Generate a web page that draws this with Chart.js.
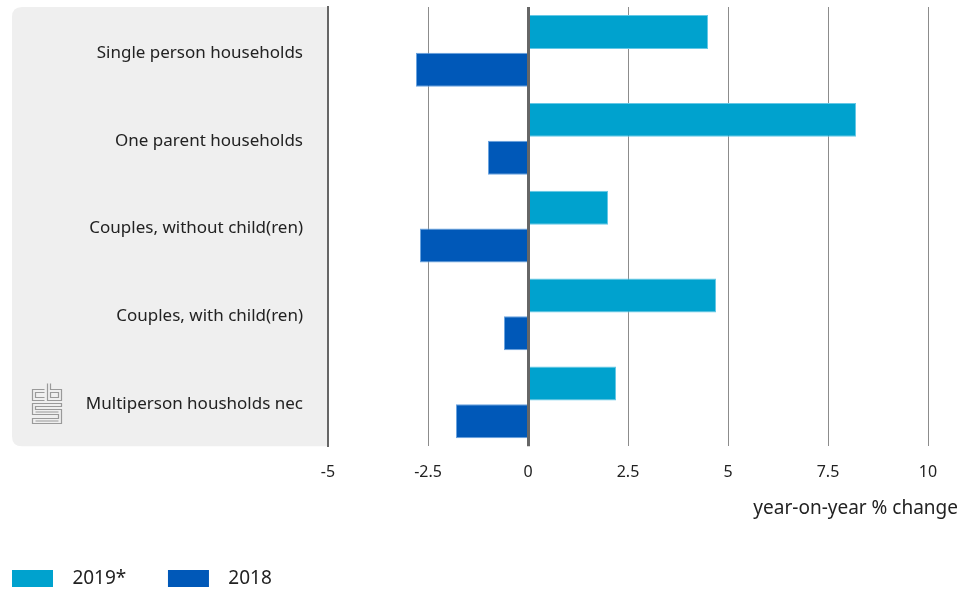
<!DOCTYPE html>
<html>
<head>
<meta charset="utf-8">
<script src="https://cdn.jsdelivr.net/npm/chart.js@4/dist/chart.umd.min.js"></script>
<style>
html,body{margin:0;padding:0;background:#fff;}
#wrap{width:969px;height:594px;position:relative;}
</style>
</head>
<body>
<div id="wrap"><canvas id="c" width="969" height="594"></canvas></div>
<script>
const categories = ["Single person households","One parent households","Couples, without child(ren)","Couples, with child(ren)","Multiperson housholds nec"];
const seriesNames = ["2019*","2018"];
const values2019 = [4.5, 8.2, 2.0, 4.7, 2.2];
const values2018 = [-2.8, -1.0, -2.7, -0.6, -1.8];
const xTicks = [-5, -2.5, 0, 2.5, 5, 7.5, 10];
const axisTitle = "year-on-year % change";

const FONT = "'Noto Sans', sans-serif";
const TEXT = "#222";

const panelPlugin = {
  id: 'panel',
  beforeDraw(chart) {
    const ctx = chart.ctx, a = chart.chartArea;
    const x0 = 12, x1 = a.left - 1, y0 = a.top, y1 = a.bottom, r = 10;
    ctx.save();
    ctx.fillStyle = '#efefef';
    ctx.beginPath();
    ctx.moveTo(x0 + r, y0);
    ctx.lineTo(x1, y0);
    ctx.lineTo(x1, y1);
    ctx.lineTo(x0 + r, y1);
    ctx.quadraticCurveTo(x0, y1, x0, y1 - r);
    ctx.lineTo(x0, y0 + r);
    ctx.quadraticCurveTo(x0, y0, x0 + r, y0);
    ctx.closePath();
    ctx.fill();
    // cbs logo
    ctx.strokeStyle = '#9a9a9a';
    ctx.lineWidth = 1.2;
    const L = 32.5, T = 383.5;
    ctx.beginPath();
    // c
    ctx.moveTo(L+12, T+6); ctx.lineTo(L, T+6); ctx.lineTo(L, T+17); ctx.lineTo(L+12, T+17);
    ctx.moveTo(L+12, T+9); ctx.lineTo(L+3, T+9); ctx.lineTo(L+3, T+14); ctx.lineTo(L+12, T+14);
    // b
    ctx.moveTo(L+15, T); ctx.lineTo(L+15, T+17); ctx.lineTo(L+29, T+17); ctx.lineTo(L+29, T+6); ctx.lineTo(L+18, T+6); ctx.lineTo(L+18, T);
    ctx.moveTo(L+18, T+9); ctx.lineTo(L+26, T+9); ctx.lineTo(L+26, T+14); ctx.lineTo(L+18, T+14); ctx.closePath();
    // s
    ctx.moveTo(L+29, T+20); ctx.lineTo(L, T+20); ctx.lineTo(L, T+31); ctx.lineTo(L+26, T+31); ctx.lineTo(L+26, T+35); ctx.lineTo(L, T+35); ctx.lineTo(L, T+40); ctx.lineTo(L+29, T+40); ctx.lineTo(L+29, T+26); ctx.lineTo(L+3, T+26); ctx.lineTo(L+3, T+23); ctx.lineTo(L+29, T+23); ctx.closePath();
    ctx.moveTo(L+3, T+37.5); ctx.lineTo(L+26, T+37.5);
    ctx.moveTo(L+3, T+28.5); ctx.lineTo(L+26, T+28.5);
    ctx.stroke();
    ctx.restore();
  }
};

const zeroLine = {
  id: 'zeroLine',
  afterDatasetsDraw(chart) {
    const ctx = chart.ctx, a = chart.chartArea, xs = chart.scales.x;
    const px = Math.round(xs.getPixelForValue(0)) + 0.5;
    ctx.save();
    ctx.strokeStyle = '#666';
    ctx.lineWidth = 3;
    ctx.beginPath();
    ctx.moveTo(px, a.top);
    ctx.lineTo(px, a.bottom);
    ctx.stroke();
    ctx.restore();
  }
};

function noPad(scale) { scale.paddingTop = 0; scale.paddingBottom = 0; }

new Chart(document.getElementById('c'), {
  type: 'bar',
  data: {
    labels: categories,
    datasets: [
      { label: seriesNames[0], data: values2019, backgroundColor: '#00a2ce', borderColor: '#66c8e6', borderWidth: 1,
        categoryPercentage: 0.86, barPercentage: 0.9 },
      { label: seriesNames[1], data: values2018, backgroundColor: '#0058b8', borderColor: '#6aa3df', borderWidth: 1,
        categoryPercentage: 0.86, barPercentage: 0.9 }
    ]
  },
  options: {
    indexAxis: 'y',
    responsive: false,
    animation: false,
    devicePixelRatio: 1,
    layout: { autoPadding: false, padding: { left: 0, right: 11, top: 7, bottom: -4 } },
    scales: {
      x: {
        min: -5, max: 10,
        afterBuildTicks(scale) { scale.ticks = xTicks.map(v => ({ value: v })); },
        grid: { color: '#8c8c8c', lineWidth: 1, drawTicks: false },
        border: { display: false },
        ticks: { color: TEXT, font: { family: FONT, size: 16 }, padding: 17,
          callback: (v) => String(v) },
        afterFit(scale) { scale.height = 40; }
      },
      y: {
        grid: { display: false, drawTicks: false },
        border: { display: true, color: '#666', width: 2 },
        ticks: { color: TEXT, font: { family: FONT, size: 17 }, padding: 25, labelOffset: 2 },
        afterFit(scale) { scale.width = 328; noPad(scale); }
      },
      yR: {
        position: 'right',
        display: true,
        grid: { display: false, drawTicks: false },
        border: { display: false },
        ticks: { display: false },
        afterFit(scale) { scale.width = 30; noPad(scale); }
      }
    },
    plugins: {
      title: {
        display: true, position: 'bottom', align: 'end', text: axisTitle, color: TEXT,
        font: { family: FONT, size: 19, weight: 'normal' }, padding: { top: 11, bottom: 37 }, weight: 500
      },
      legend: {
        position: 'bottom', align: 'start',
        labels: {
          boxWidth: 41, boxHeight: 17, padding: 12, color: TEXT,
          font: { family: FONT, size: 19 },
          generateLabels(chart) {
            return chart.data.datasets.map((ds, i) => ({
              text: '  ' + ds.label + (i === 0 ? '      ' : ''),
              fillStyle: ds.backgroundColor, strokeStyle: ds.backgroundColor, lineWidth: 0,
              hidden: false, datasetIndex: i, fontColor: TEXT
            }));
          }
        }
      },
      tooltip: { enabled: false }
    }
  },
  plugins: [panelPlugin, zeroLine]
});
</script>
</body>
</html>
